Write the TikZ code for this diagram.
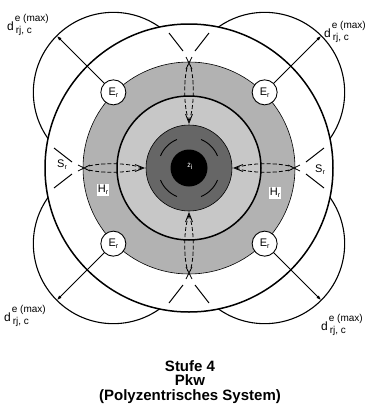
\documentclass[tikz,border=0pt]{standalone}
\usepackage{fontspec}
\setmainfont{Liberation Sans}
\usetikzlibrary{arrows.meta}
\tikzset{
  thickline/.style={line width=1.5pt},
  thinline/.style={line width=0.6pt},
  lobe/.style={line width=1.1pt},
  enode/.style={circle, draw, line width=0.9pt, fill=white, minimum size=25pt, inner sep=0pt, font=\fontsize{11}{11}\selectfont},
  arr/.style={line width=1pt, -{Latex[length=5pt,width=3.5pt]}},
  lensdash/.style={line width=0.8pt, dash pattern=on 4pt off 2.2pt},
  lenssolid/.style={line width=0.8pt},
  shortarc/.style={line width=1pt},
  lbl/.style={font=\fontsize{11}{11}\selectfont, inner sep=1pt},
  dlbl/.style={font=\fontsize{12}{12}\selectfont, inner sep=0pt, anchor=base west},
  titletext/.style={font=\fontsize{15}{15}\selectfont\bfseries, anchor=base, inner sep=0pt}
}
\newcommand{\dtext}{d\rlap{\raisebox{9pt}{\fontsize{10}{10}\selectfont\hspace{1pt}e (max)}}\hspace{2pt}\raisebox{-3pt}{\fontsize{10}{10}\selectfont rj, c}}
\begin{document}
\begin{tikzpicture}[x=1pt,y=1pt]
\useasboundingbox (0,0) rectangle (369,-408);
\coordinate (C) at (189,-168);
\foreach \n/\a in {tl/135, tr/45, bl/225, br/315} {
  \path (C) ++(\a:107pt) coordinate (P\n);
  \path (C) ++(\a:187pt) coordinate (A\n);
}
% lobes (only the parts outside the outer circle remain)
\foreach \n in {tl,tr,bl,br} \draw[lobe] (P\n) circle[radius=80pt];
\fill[white] (C) circle[radius=144pt];
% rings
\fill[black!30] (C) circle[radius=106pt];
\draw[thinline] (C) circle[radius=106pt];
\fill[black!22] (C) circle[radius=72pt];
\fill[black!60] (C) circle[radius=43pt];
\draw[thinline] (C) circle[radius=43pt];
\fill[black] (C) circle[radius=18.5pt];
\draw[thickline] (C) circle[radius=72pt];
\draw[thickline] (C) circle[radius=144pt];
% dashes in dark ring
\foreach \a [evaluate=\a as \s using \a-22, evaluate=\a as \e using \a+22] in {45,135,225,315}
  \draw[line width=0.9pt] (C) ++(\s:31pt) arc[start angle=\s, end angle=\e, radius=31pt];
% lenses and short arcs
\foreach \r in {0,90,180,270} {
 \begin{scope}[shift={(C)}, rotate=\r]
  \draw[lensdash] (47,0) .. controls (60,5.5) and (90,5.5) .. (103,1.2);
  \draw[lensdash] (47,0) .. controls (60,-5.5) and (90,-5.5) .. (103,-1.2);
  \draw[lenssolid] (99,3) -- (111,-3) (99,-3) -- (111,3);
  \draw[lenssolid] (54,3.5) -- (45,0) -- (54,-3.5);
  \draw[shortarc] (117,6) -- (135,20);
  \draw[shortarc] (117,-6) -- (135,-20);
 \end{scope}}
% E_r nodes and arrows
\foreach \n in {tl,tr,bl,br} {
  \node[enode] (E\n) at (P\n) {E\raisebox{-2pt}{\fontsize{7}{7}\selectfont r}};
  \draw[arr] (E\n) -- (A\n);
}
% labels
\node[lbl] (Sl) at (62,-165) {S\raisebox{-2pt}{\fontsize{7}{7}\selectfont r}};
\node[lbl] (Sr) at (320,-170) {S\raisebox{-2pt}{\fontsize{7}{7}\selectfont r}};
\node[lbl, fill=white] (Hl) at (103,-190) {H\raisebox{-2pt}{\fontsize{7}{7}\selectfont r}};
\node[lbl, fill=white] (Hr) at (275,-193) {H\raisebox{-2pt}{\fontsize{7}{7}\selectfont r}};
\node[text=white, font=\fontsize{7}{7}\selectfont, inner sep=0pt] (Z) at (190,-166) {ż\raisebox{-2pt}{i}};
\node[dlbl] (Dtl) at (7,-30) {\dtext};
\node[dlbl] (Dtr) at (324,-37) {\dtext};
\node[dlbl] (Dbl) at (4,-321) {\dtext};
\node[dlbl] (Dbr) at (321,-330) {\dtext};
% title
\node[titletext] (T1) at (190,-371) {Stufe 4};
\node[titletext] (T2) at (190,-385.5) {Pkw};
\node[titletext] (T3) at (190,-400) {(Polyzentrisches System)};
\end{tikzpicture}
\end{document}
